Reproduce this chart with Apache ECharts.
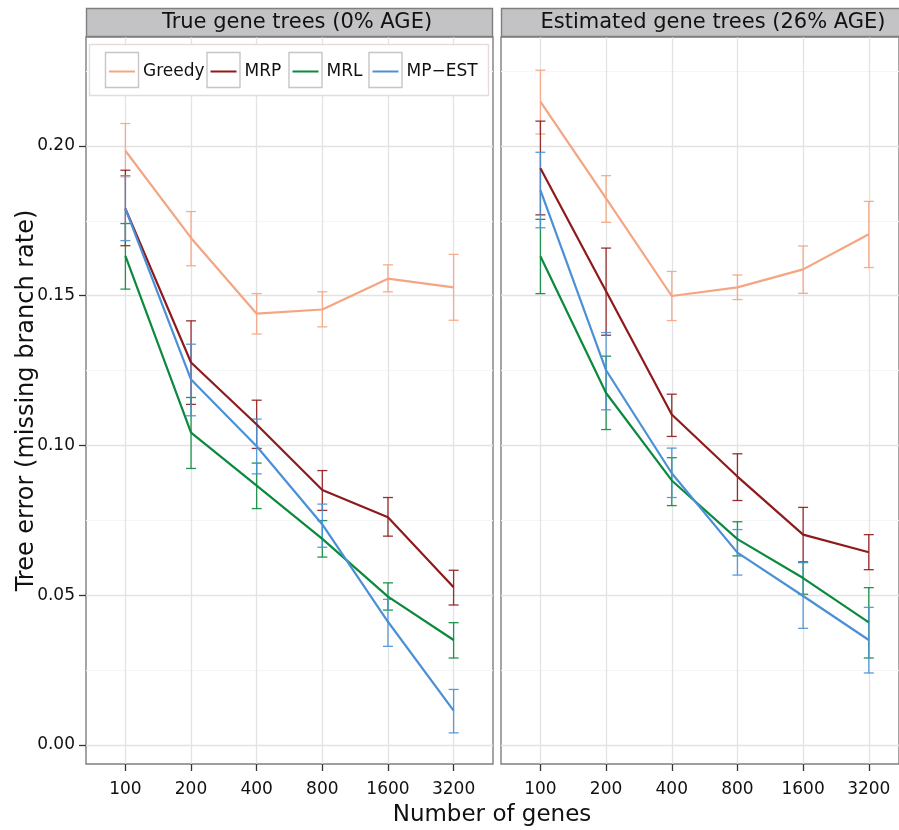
<!DOCTYPE html>
<html>
<head>
<meta charset="utf-8">
<script src="https://cdn.jsdelivr.net/npm/echarts@6/dist/echarts.min.js"></script>
<style>html,body{margin:0;padding:0;background:#fff;}#chart{width:899px;height:830px;}</style>
</head>
<body>
<div id="chart"></div>
<script>
// ---- data ----
const categories = ['100', '200', '400', '800', '1600', '3200'];
const panelTitles = ['True gene trees (0% AGE)', 'Estimated gene trees (26% AGE)'];
const methods = ['Greedy', 'MRP', 'MRL', 'MP\u2212EST'];
const yTicks = [0.00, 0.05, 0.10, 0.15, 0.20];
const yMinorTicks = [0.025, 0.075, 0.125, 0.175, 0.225];

// Panel 1: true gene trees
const greedyTrue   = [0.1984, 0.1693, 0.1440, 0.1454, 0.1557, 0.1528];
const greedyTrueLo = [0.1897, 0.1600, 0.1372, 0.1396, 0.1513, 0.1418];
const greedyTrueHi = [0.2075, 0.1781, 0.1507, 0.1513, 0.1603, 0.1638];
const mrpTrue      = [0.1791, 0.1277, 0.1070, 0.0851, 0.0760, 0.0526];
const mrpTrueLo    = [0.1667, 0.1137, 0.0990, 0.0783, 0.0697, 0.0467];
const mrpTrueHi    = [0.1919, 0.1416, 0.1151, 0.0916, 0.0826, 0.0583];
const mrlTrue      = [0.1633, 0.1043, 0.0866, 0.0688, 0.0495, 0.0350];
const mrlTrueLo    = [0.1522, 0.0923, 0.0789, 0.0627, 0.0450, 0.0290];
const mrlTrueHi    = [0.1741, 0.1160, 0.0941, 0.0749, 0.0541, 0.0408];
const mpestTrue    = [0.1791, 0.1220, 0.0997, 0.0736, 0.0411, 0.0114];
const mpestTrueLo  = [0.1684, 0.1099, 0.0905, 0.0660, 0.0329, 0.0040];
const mpestTrueHi  = [0.1901, 0.1338, 0.1088, 0.0804, 0.0486, 0.0185];

// Panel 2: estimated gene trees
const greedyEst    = [0.2148, 0.1825, 0.1499, 0.1528, 0.1588, 0.1705];
const greedyEstLo  = [0.2040, 0.1745, 0.1417, 0.1487, 0.1508, 0.1594];
const greedyEstHi  = [0.2253, 0.1901, 0.1581, 0.1569, 0.1666, 0.1815];
const mrpEst       = [0.1926, 0.1515, 0.1103, 0.0896, 0.0702, 0.0643];
const mrpEstLo     = [0.1770, 0.1368, 0.1030, 0.0816, 0.0611, 0.0585];
const mrpEstHi     = [0.2083, 0.1659, 0.1171, 0.0972, 0.0793, 0.0702];
const mrlEst       = [0.1632, 0.1175, 0.0883, 0.0687, 0.0557, 0.0409];
const mrlEstLo     = [0.1507, 0.1053, 0.0799, 0.0631, 0.0503, 0.0290];
const mrlEstHi     = [0.1755, 0.1298, 0.0959, 0.0745, 0.0609, 0.0525];
const mpestEst     = [0.1853, 0.1251, 0.0907, 0.0642, 0.0497, 0.0350];
const mpestEstLo   = [0.1727, 0.1119, 0.0826, 0.0567, 0.0389, 0.0240];
const mpestEstHi   = [0.1979, 0.1377, 0.0991, 0.0719, 0.0609, 0.0459];

const colors = ['#F4A582', '#8E1B1B', '#0B893D', '#4A90D6'];

const panels = [
  [[greedyTrue, greedyTrueLo, greedyTrueHi], [mrpTrue, mrpTrueLo, mrpTrueHi],
   [mrlTrue, mrlTrueLo, mrlTrueHi], [mpestTrue, mpestTrueLo, mpestTrueHi]],
  [[greedyEst, greedyEstLo, greedyEstHi], [mrpEst, mrpEstLo, mrpEstHi],
   [mrlEst, mrlEstLo, mrlEstHi], [mpestEst, mpestEstLo, mpestEstHi]]
];

// ---- layout ----
const FONT = 'DejaVu Sans';
const gridTop = 37, gridH = 727;
const gridLefts = [86, 501];
const gridWidths = [407, 398];      // second panel is cut off by the right edge
const xMaxs = [5.6, 5.46];
const yMin = -0.0064, yMax = 0.2364;
const xIdx = categories.map((c, i) => i);

const chart = echarts.init(document.getElementById('chart'), null, {renderer: 'canvas'});

const grids = gridLefts.map((l, g) => ({
  left: l, top: gridTop, width: gridWidths[g], height: gridH,
  show: true, backgroundColor: '#fff', borderColor: '#7f7f7f', borderWidth: 1.4, z: 0
}));

const xAxes = gridLefts.map((l, g) => ({
  type: 'value', gridIndex: g, min: -0.6, max: xMaxs[g],
  axisLine: {show: false, onZero: false},
  axisTick: {show: true, length: 7, customValues: xIdx, lineStyle: {color: '#333', width: 1.3}},
  axisLabel: {show: true, customValues: xIdx, margin: 17, fontFamily: FONT, fontSize: 17, color: '#111',
              formatter: v => categories[Math.round(v)]},
  splitLine: {show: true, lineStyle: {color: '#E3E3E3', width: 1.3}}
}));

const yAxes = [];
gridLefts.forEach((l, g) => {
  yAxes.push({
    type: 'value', gridIndex: g, min: yMin, max: yMax,
    axisLine: {show: false, onZero: false},
    axisTick: {show: g === 0, length: 7, customValues: yTicks, lineStyle: {color: '#333', width: 1.3}},
    axisLabel: {show: g === 0, customValues: yTicks, margin: 11, fontFamily: FONT, fontSize: 17, color: '#111',
                formatter: v => v.toFixed(2)},
    splitLine: {show: true, lineStyle: {color: '#E3E3E3', width: 1.3}},
    name: g === 0 ? 'Tree error (missing branch rate)' : '',
    nameLocation: 'middle', nameGap: 47, nameMoveOverlap: false,
    nameTextStyle: {fontFamily: FONT, fontSize: 24, color: '#111'},
    z: 1
  });
});
gridLefts.forEach((l, g) => {
  yAxes.push({
    type: 'value', gridIndex: g, min: yMin, max: yMax, position: 'left',
    axisLine: {show: false, onZero: false},
    axisTick: {show: false, customValues: yMinorTicks},
    axisLabel: {show: false, customValues: yMinorTicks},
    splitLine: {show: true, lineStyle: {color: '#F6F6F6', width: 1.2}},
    z: 0
  });
});

const series = [];
panels.forEach((panel, g) => {
  panel.forEach((m, k) => {
    const [vals, lo, hi] = m;
    series.push({
      name: k + '-err-' + g, type: 'custom', xAxisIndex: g, yAxisIndex: g,
      data: xIdx.map(i => [i, lo[i], hi[i]]),
      encode: {x: 0, y: [1, 2]},
      z: 2,
      renderItem: (params, api) => {
        const x = api.value(0);
        const pLo = api.coord([x, api.value(1)]);
        const pHi = api.coord([x, api.value(2)]);
        const w = 5;
        const st = {stroke: colors[k], lineWidth: 1.3, opacity: 0.9};
        return {type: 'group', children: [
          {type: 'line', shape: {x1: pLo[0], y1: pLo[1], x2: pHi[0], y2: pHi[1]}, style: st},
          {type: 'line', shape: {x1: pLo[0] - w, y1: pLo[1], x2: pLo[0] + w, y2: pLo[1]}, style: st},
          {type: 'line', shape: {x1: pHi[0] - w, y1: pHi[1], x2: pHi[0] + w, y2: pHi[1]}, style: st}
        ]};
      },
      silent: true
    });
  });
});
panels.forEach((panel, g) => {
  panel.forEach((m, k) => {
    series.push({
      name: methods[k], type: 'line', xAxisIndex: g, yAxisIndex: g,
      data: xIdx.map(i => [i, m[0][i]]),
      showSymbol: false, symbol: 'none',
      lineStyle: {color: colors[k], width: 2.2},
      itemStyle: {color: colors[k]},
      z: 3, silent: true, animation: false
    });
  });
});

// legend: one component per key
const keyBoxX = [105, 206.5, 288.5, 368.5];
const legends = methods.map((name, k) => ({
  data: [name], left: keyBoxX[k] + 4, top: 63, orient: 'horizontal', padding: 0,
  icon: 'rect', itemWidth: 26, itemHeight: 2, itemGap: 0,
  selectedMode: false, z: 10,
  textStyle: {fontFamily: FONT, fontSize: 17, color: '#111', padding: [0, 0, 0, 3]},
  itemStyle: {color: colors[k]}
}));

const graphic = [
  // strips
  {type: 'rect', shape: {x: 86.5, y: 8.5, width: 406, height: 28}, style: {fill: '#C3C3C5', stroke: '#7f7f7f', lineWidth: 1.4}, z: 5},
  {type: 'rect', shape: {x: 501.5, y: 8.5, width: 410, height: 28}, style: {fill: '#C3C3C5', stroke: '#7f7f7f', lineWidth: 1.4}, z: 5},
  {type: 'text', x: 297, y: 23, style: {text: panelTitles[0], font: '21px "DejaVu Sans"', fill: '#111', align: 'center', verticalAlign: 'middle'}, z: 6},
  {type: 'text', x: 713, y: 23, style: {text: panelTitles[1], font: '21px "DejaVu Sans"', fill: '#111', align: 'center', verticalAlign: 'middle'}, z: 6},
  // legend background
  {type: 'rect', shape: {x: 89.5, y: 44.5, width: 399, height: 51}, style: {fill: '#fff', stroke: '#E8DADA', lineWidth: 1.4}, z: 5},
  // x title
  {type: 'text', x: 492, y: 815, style: {text: 'Number of genes', font: '23px "DejaVu Sans"', fill: '#111', align: 'center', verticalAlign: 'middle'}, z: 6}
];
keyBoxX.forEach(x => {
  graphic.push({type: 'rect', shape: {x: x + 0.5, y: 52.5, width: 33, height: 35}, style: {fill: '#fff', stroke: '#C6C6C6', lineWidth: 1.4}, z: 6});
});

chart.setOption({
  animation: false,
  backgroundColor: '#fff',
  grid: grids,
  xAxis: xAxes,
  yAxis: yAxes,
  legend: legends,
  graphic: graphic,
  series: series
});
</script>
</body>
</html>
